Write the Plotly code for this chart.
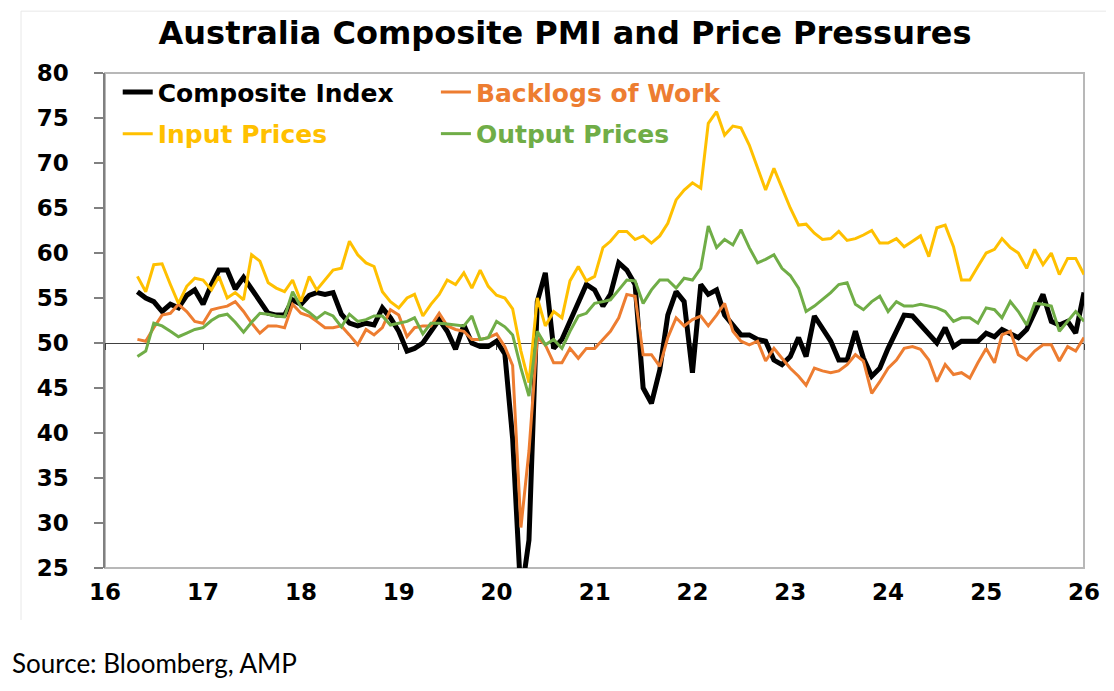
import pandas as pd
import plotly.graph_objects as go

# Monthly observations, May 2016 .. Jan 2026
months = pd.date_range("2016-05-01", periods=117, freq="MS")

composite_index = [
    55.7, 55.0, 54.6, 53.5, 54.3, 53.9, 55.3, 55.9, 54.3, 56.5, 58.1, 58.1,
    56.0, 57.3, 56.0, 54.6, 53.3, 53.1, 53.1, 54.8, 54.3, 55.3, 55.6, 55.4,
    55.6, 53.2, 52.2, 51.9, 52.2, 52.0, 53.9, 52.8, 51.3, 49.1, 49.4, 50.0,
    51.3, 52.6, 51.3, 49.3, 52.0, 50.0, 49.6, 49.6, 50.2, 48.8, 39.4, 21.7,
    28.1, 54.6, 57.8, 49.4, 50.4, 52.4, 54.6, 56.5, 55.9, 54.1, 55.4, 58.9,
    58.1, 56.5, 45.0, 43.3, 47.0, 53.1, 55.7, 54.6, 46.7, 56.5, 55.4, 55.9,
    53.1, 52.0, 50.9, 50.9, 50.4, 50.2, 48.1, 47.6, 48.5, 50.6, 48.5, 53.0,
    51.7, 50.2, 48.1, 48.1, 51.3, 48.3, 46.3, 47.2, 49.4, 51.3, 53.1, 53.0,
    52.0, 50.9, 50.0, 51.7, 49.6, 50.2, 50.2, 50.2, 51.1, 50.7, 51.5, 51.1,
    50.6, 51.5, 53.3, 55.4, 52.4, 52.0, 52.4, 51.1, 55.6,
]

backlogs_of_work = [
    50.4, 50.2, 51.7, 53.1, 53.3, 54.3, 53.5, 52.4, 52.2, 53.7, 53.9, 54.1,
    54.6, 53.5, 52.2, 51.1, 51.9, 51.9, 51.7, 54.3, 53.3, 53.0, 52.4, 51.7,
    51.7, 51.9, 50.9, 49.8, 51.5, 50.9, 51.7, 53.7, 53.1, 50.7, 51.7, 51.9,
    51.9, 53.3, 51.9, 51.5, 51.3, 50.4, 50.4, 50.6, 51.0, 49.6, 47.5, 29.5,
    38.0, 50.6, 49.8, 47.8, 47.8, 49.4, 48.3, 49.4, 49.4, 50.4, 51.3, 52.8,
    55.4, 55.2, 48.7, 48.7, 47.4, 50.6, 52.8, 51.9, 52.6, 53.0, 51.9, 53.1,
    54.4, 51.3, 50.2, 49.8, 50.2, 48.0, 49.4, 48.3, 47.2, 46.3, 45.3, 47.2,
    46.9, 46.7, 46.9, 47.6, 48.7, 48.0, 44.4, 45.7, 47.2, 48.1, 49.4, 49.6,
    49.3, 48.1, 45.7, 47.6, 46.5, 46.7, 46.1, 47.8, 49.4, 47.8, 50.9, 51.3,
    48.7, 48.1, 49.1, 49.8, 49.8, 48.0, 49.6, 49.1, 50.6,
]

input_prices = [
    57.4, 55.7, 58.7, 58.8, 56.5, 54.4, 56.3, 57.2, 57.0, 55.9, 57.4, 55.0,
    55.6, 54.8, 59.8, 59.1, 56.7, 56.1, 55.7, 57.0, 54.6, 57.4, 55.9, 57.0,
    58.1, 58.3, 61.3, 59.8, 58.9, 58.5, 55.7, 54.6, 53.9, 55.0, 55.4, 53.0,
    54.3, 55.4, 57.0, 56.5, 57.8, 56.1, 58.1, 56.3, 55.3, 55.0, 53.8, 49.1,
    45.6, 55.0, 51.9, 53.5, 52.8, 56.9, 58.5, 56.9, 57.4, 60.6, 61.3, 62.4,
    62.4, 61.5, 61.9, 61.1, 61.9, 63.3, 65.9, 67.0, 67.8, 67.2, 74.4, 75.7,
    73.1, 74.1, 73.9, 72.0, 69.4, 67.0, 69.4, 67.2, 65.0, 63.1, 63.2, 62.2,
    61.5, 61.6, 62.4, 61.4, 61.6, 62.0, 62.5, 61.1, 61.1, 61.6, 60.7, 61.3,
    61.9, 59.6, 62.8, 63.1, 60.7, 57.0, 57.0, 58.5, 60.0, 60.4, 61.6, 60.6,
    60.0, 58.3, 60.4, 58.7, 60.0, 57.6, 59.4, 59.4, 57.6,
]

output_prices = [
    48.5, 49.1, 52.2, 51.9, 51.3, 50.7, 51.1, 51.5, 51.7, 52.5, 53.0, 53.2,
    52.3, 51.2, 52.3, 53.3, 53.2, 53.0, 52.9, 55.7, 54.0, 53.4, 52.7, 53.4,
    53.0, 51.8, 53.2, 52.4, 52.6, 53.0, 53.0, 52.0, 52.2, 52.4, 52.8, 51.0,
    52.2, 52.2, 52.1, 52.0, 51.9, 53.0, 50.4, 50.6, 52.4, 51.8, 50.9, 47.2,
    44.1, 51.3, 49.8, 50.4, 49.4, 51.3, 53.0, 53.3, 54.4, 54.6, 54.8, 55.9,
    57.0, 56.9, 54.4, 55.9, 57.0, 57.0, 56.1, 57.2, 57.0, 58.3, 63.0, 60.6,
    61.5, 60.9, 62.6, 60.6, 58.9, 59.3, 59.8, 58.3, 57.5, 56.1, 53.5, 54.1,
    54.8, 55.6, 56.5, 56.7, 54.3, 53.7, 54.6, 55.2, 53.5, 54.6, 54.1, 54.1,
    54.3, 54.1, 53.9, 53.5, 52.4, 52.8, 52.8, 52.2, 53.9, 53.7, 52.8, 54.6,
    53.5, 52.0, 54.4, 54.3, 54.1, 51.3, 52.4, 53.5, 52.4,
]

series = [
    ("Composite Index", composite_index, "#000000", 5, "legend", "x"),
    ("Backlogs of Work", backlogs_of_work, "#ED7D31", 3, "legend2", "x"),
    ("Input Prices", input_prices, "#FFC000", 3, "legend3", "x"),
    ("Output Prices", output_prices, "#70AD47", 3, "legend4", "x2"),
]

BOLD = "DejaVu Sans"

fig = go.Figure()
for name, vals, color, width, leg, xax in series:
    fig.add_trace(go.Scatter(
        x=months, y=vals, name=name, mode="lines",
        line=dict(color=color, width=width),
        legend=leg, xaxis=xax, yaxis="y",
    ))

def legend_box(x, y, color):
    return dict(
        x=x, y=y, xanchor="left", yanchor="middle",
        bgcolor="rgba(0,0,0,0)", borderwidth=0,
        font=dict(family=BOLD, size=25, color=color, weight="bold"),
        itemwidth=30,
    )

XRANGE = ["2016-01-01", "2026-01-01"]

fig.update_layout(
    width=1114, height=691,
    paper_bgcolor="white", plot_bgcolor="white",
    margin=dict(l=97, r=38, t=65, b=131),
    title=dict(
        text="Australia Composite PMI and Price Pressures",
        x=0.5, xanchor="center", xref="container",
        y=1 - 25 / 691, yanchor="middle", yref="container",
        font=dict(family=BOLD, size=32, color="black", weight="bold"),
    ),
    showlegend=True,
    legend=legend_box(0.013, 0.961, "#000000"),
    legend2=legend_box(0.338, 0.961, "#ED7D31"),
    legend3=legend_box(0.013, 0.877, "#FFC000"),
    legend4=legend_box(0.338, 0.877, "#70AD47"),
    xaxis=dict(
        type="date", range=XRANGE,
        dtick="M12", tick0="2016-01-01", tickformat="%y",
        showgrid=False, zeroline=False, showline=False, ticks="",
        tickfont=dict(family=BOLD, size=23, color="black", weight="bold"),
        ticklabelstandoff=8,
    ),
    xaxis2=dict(
        type="date", overlaying="x", matches="x", anchor="free",
        position=(50 - 25) / 55, range=XRANGE,
        dtick="M12", tick0="2016-01-01",
        showgrid=False, zeroline=False, showticklabels=False,
        showline=True, linecolor="#404040", linewidth=1,
        ticks="outside", ticklen=6, tickcolor="#404040", tickwidth=1,
        layer="below traces",
    ),
    yaxis=dict(
        range=[25, 80], dtick=5, tick0=25,
        showgrid=False, zeroline=False,
        showline=True, linecolor="#808080", linewidth=1.5,
        ticks="outside", ticklen=9, tickcolor="#808080", tickwidth=1.5,
        tickfont=dict(family=BOLD, size=23, color="black", weight="bold"),
        ticklabelstandoff=21,
    ),
    shapes=[
        dict(type="rect", xref="paper", yref="paper", x0=0, x1=1, y0=0, y1=1,
             line=dict(color="#B8B8B8", width=2), layer="below"),
        dict(type="line", xref="paper", yref="paper", x0=-0.0858, x1=-0.0858,
             y0=-0.105, y1=1.125, line=dict(color="#E8E8E8", width=1)),
        dict(type="line", xref="paper", yref="paper", x0=-0.0858, x1=1.03,
             y0=1.125, y1=1.125, line=dict(color="#E8E8E8", width=1)),
    ],
    annotations=[
        dict(text="Source: Bloomberg, AMP", xref="paper", yref="paper",
             x=(2 - 97) / 979, y=(560 - 655) / 495,
             xanchor="left", yanchor="middle", showarrow=False,
             font=dict(family="Lato", size=26, color="black")),
    ],
)

fig.write_html("out.html")
